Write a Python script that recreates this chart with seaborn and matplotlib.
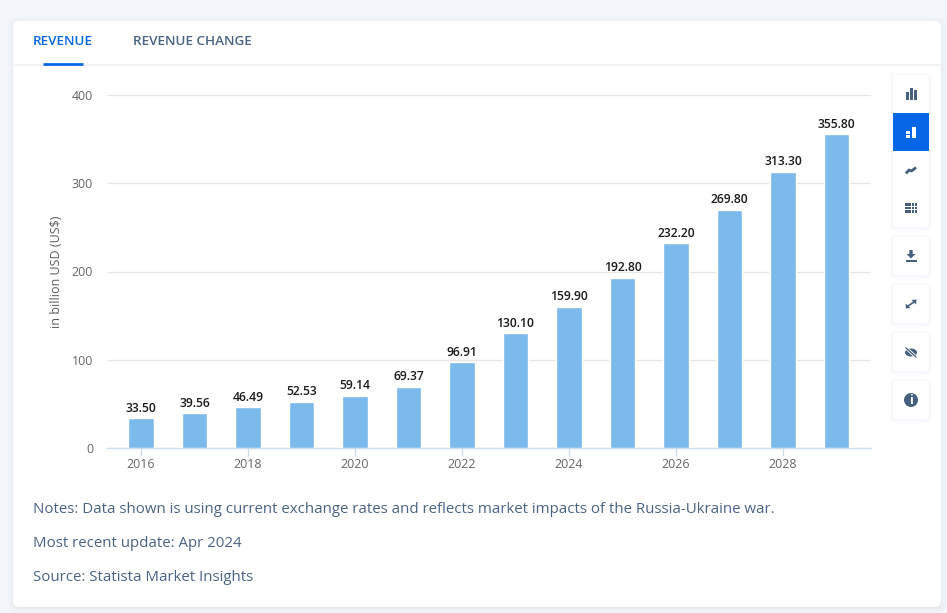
import matplotlib
matplotlib.use("Agg")
import matplotlib.pyplot as plt
import pandas as pd
import seaborn as sns
from matplotlib.patches import FancyBboxPatch, Rectangle, Circle, Polygon, Ellipse

years = [2016, 2017, 2018, 2019, 2020, 2021, 2022, 2023, 2024, 2025, 2026, 2027, 2028, 2029]
revenue = [33.50, 39.56, 46.49, 52.53, 59.14, 69.37, 96.91, 130.10, 159.90, 192.80, 232.20, 269.80, 313.30, 355.80]
value_labels = ["33.50", "39.56", "46.49", "52.53", "59.14", "69.37", "96.91", "130.10", "159.90", "192.80", "232.20", "269.80", "313.30", "355.80"]
y_ticks = [0, 100, 200, 300, 400]
notes = ["Notes: Data shown is using current exchange rates and reflects market impacts of the Russia-Ukraine war.",
         "Most recent update: Apr 2024",
         "Source: Statista Market Insights"]
tabs = ["REVENUE", "REVENUE CHANGE"]

W, H = 947, 613
BLUE = "#0666e6"
SLATE = "#4a6385"
ICON = "#46607f"

sns.set_theme(style="white")
plt.rcParams["font.family"] = ["Open Sans", "DejaVu Sans"]

fig = plt.figure(figsize=(W / 100, H / 100), dpi=100, facecolor="#f3f6fa")

# page overlay in pixel coordinates
bg = fig.add_axes([0, 0, 1, 1], zorder=0)
bg.set_xlim(0, W)
bg.set_ylim(H, 0)
bg.axis("off")
for grow, col in ((5, "#f0f3f8"), (3, "#edf0f6"), (1, "#e6eaf1")):
    bg.add_patch(FancyBboxPatch((13 - grow, 21 - grow + 1), 928 + 2 * grow, 586 + 2 * grow,
                                boxstyle="round,pad=0,rounding_size=7", fc=col, ec="none"))
bg.add_patch(FancyBboxPatch((13, 21), 928, 586, boxstyle="round,pad=0,rounding_size=6",
                            fc="white", ec="none"))
bg.plot([13, 941], [64.5, 64.5], color="#f0f3f7", lw=1.2)
bg.plot([43, 83], [64, 64], color=BLUE, lw=2, solid_capstyle="butt")
bg.text(33, 41.5, tabs[0], color=BLUE, fontsize=9.7, va="center", ha="left", fontweight=600)
bg.text(133, 41.5, tabs[1], color=SLATE, fontsize=9.7, va="center", ha="left", fontweight=600)
for y, t in zip((509.5, 543.5, 577.5), notes):
    bg.text(33, y, t, color=SLATE, fontsize=10.8, va="center", ha="left")

# chart
x0, x1, ytop, ybot = 107, 871, 95, 448
ax = fig.add_axes([x0 / W, 1 - ybot / H, (x1 - x0) / W, (ybot - ytop) / H], zorder=2)
ax.patch.set_alpha(0)
df = pd.DataFrame({"year": years, "revenue": revenue})
sns.barplot(data=df, x="year", y="revenue", color="#7cb9ec", saturation=1, width=0.47, ax=ax, zorder=3)
ax.set_xlim(-0.635, len(years) - 1 + 0.645)
ax.set_ylim(0, 400)
ax.set_yticks(y_ticks)
ax.set_xticks(range(0, len(years), 2))
ax.set_xticklabels([str(y) for y in years[::2]])
ax.set_xlabel("")
ax.set_ylabel("in billion USD (US$)", fontsize=9, color="#5c5c5c")
ax.yaxis.set_label_coords((63 - x0) / (x1 - x0), 0.5)
ax.grid(axis="y", color="#e6e6e6", lw=0.9, zorder=0)
ax.set_axisbelow(True)
for s in ("top", "right", "left"):
    ax.spines[s].set_visible(False)
ax.spines["bottom"].set_color("#ccdcf0")
ax.spines["bottom"].set_linewidth(1)
ax.tick_params(axis="y", length=0, pad=10, labelsize=8.9, labelcolor="#666666")
ax.tick_params(axis="x", length=6, width=1, color="#ccdcf0", pad=1.5, labelsize=8.9, labelcolor="#666666", bottom=True)
for c in ax.containers:
    ax.bar_label(c, labels=value_labels, padding=2.5, fontsize=8.7, color="#1a1a1a", fontweight=600)

# toolbar
def card(x, y, w, h, col="white"):
    for g, c in ((3, "#fbfcfd"), (1.5, "#f5f7fa")):
        bg.add_patch(FancyBboxPatch((x - g, y - g + 1), w + 2 * g, h + 2 * g,
                                    boxstyle="round,pad=0,rounding_size=5", fc=c, ec="none", zorder=3))
    bg.add_patch(FancyBboxPatch((x, y), w, h, boxstyle="round,pad=0,rounding_size=4", fc=col, ec="none", zorder=4))

card(893, 75, 36, 152)
card(893, 237, 36, 38)
card(893, 285, 36, 38)
card(893, 333, 36, 38)
card(893, 381, 36, 38)
bg.add_patch(Rectangle((893, 113), 36, 38, fc=BLUE, ec="none", zorder=5))

Z = 6
def rect(x, y, w, h, col=ICON):
    bg.add_patch(Rectangle((x, y), w, h, fc=col, ec="none", zorder=Z))

# bar chart icon
rect(905.5, 92, 3, 8); rect(909.5, 87.5, 3, 12.5); rect(913.5, 90, 3, 10)
# stacked icon
rect(906, 131, 4, 2.6, "white"); rect(906, 135, 4, 2.6, "white"); rect(912, 127, 4, 10.6, "white")
# trend icon
bg.plot([906, 909, 911.5, 916], [173.5, 170, 171, 167.5], color=ICON, lw=2, zorder=Z, solid_capstyle="butt")
# table icon
for cx in (905, 911.5, 914.5):
    for cy in (203, 206.5, 210):
        rect(cx, cy, 5.5 if cx == 905 else 2.2, 2.5)
# download icon
bg.add_patch(Polygon([(909.3, 250), (912.7, 250), (912.7, 254), (915.5, 254), (911, 258.5), (906.5, 254), (909.3, 254)],
                     fc=ICON, ec="none", zorder=Z))
rect(905.5, 260, 11, 2)
# expand icon
bg.plot([908, 914], [306, 302], color=ICON, lw=1.2, zorder=Z)
bg.add_patch(Polygon([(911.5, 300), (916.5, 299.5), (916, 304.5)], fc=ICON, ec="none", zorder=Z))
bg.add_patch(Polygon([(905.5, 303.5), (906, 308.5), (910.5, 308)], fc=ICON, ec="none", zorder=Z))
# hidden icon
bg.add_patch(Ellipse((911, 352.5), 12, 8, fc=ICON, ec="none", zorder=Z))
bg.plot([906, 916], [348, 357], color="white", lw=2.2, zorder=Z)
bg.plot([906, 916], [348, 357], color=ICON, lw=1, zorder=Z)
# info icon
bg.add_patch(Circle((911, 400), 7, fc=ICON, ec="none", zorder=Z))
bg.text(911, 400, "i", color="white", fontsize=9, fontweight="bold", ha="center", va="center", zorder=Z + 1)

fig.savefig("out.png", dpi=100, facecolor=fig.get_facecolor())
